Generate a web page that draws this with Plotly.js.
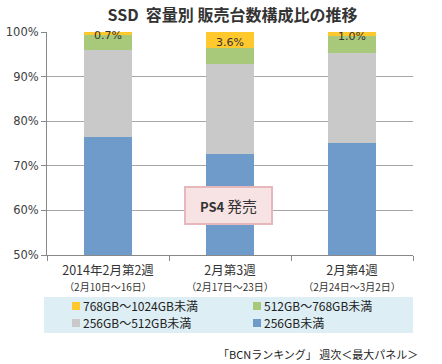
<!DOCTYPE html>
<html>
<head>
<meta charset="utf-8">
<script src="https://cdn.plot.ly/plotly-3.0.1.min.js"></script>
<style>html,body{margin:0;padding:0;background:#fff;}#chart{width:442px;height:364px;}</style>
</head>
<body>
<div id="chart"></div>
<script>
var categories = ["2014年2月第2週", "2月第3週", "2月第4週"];
var subLabels = ["（2月10日～16日）", "（2月17日～23日）", "（2月24日～3月2日）"];
var seriesNames = ["256GB未満", "256GB～512GB未満", "512GB～768GB未満", "768GB～1024GB未満"];
var under256 = [76.4, 72.6, 75.1];
var from256to512 = [19.5, 20.3, 20.2];
var from512to768 = [3.4, 3.5, 3.7];
var from768to1024 = [0.7, 3.6, 1.0];
var valueLabels = ["0.7%", "3.6%", "1.0%"];
var yTicks = [50, 60, 70, 80, 90, 100];

var colors = ["#6F9BCB", "#C9C9C9", "#A8C87A", "#FFC82C"];
var seriesData = [under256, from256to512, from512to768, from768to1024];

var FONT = "DejaVu Sans, Noto Sans CJK JP, sans-serif";
var JFONT = "Noto Sans CJK JP, DejaVu Sans, sans-serif";

// plot area in pixels (for converting overlay positions)
var PL = 47, PR = 413, PT = 32, PB = 255;
function px(x) { return (x - PL) / (PR - PL); }
function py(y) { return (PB - y) / (PB - PT); }

var traces = seriesData.map(function (vals, i) {
  return {
    type: "bar",
    x: categories,
    y: vals,
    name: seriesNames[i],
    marker: { color: colors[i], line: { width: 0 } },
    hoverinfo: "skip"
  };
});

var annotations = categories.map(function (c, i) {
  var top = under256[i] + from256to512[i] + from512to768[i] + from768to1024[i];
  return {
    x: c, y: top - from768to1024[i] / 2, xref: "x", yref: "y",
    text: valueLabels[i], showarrow: false, yshift: -2,
    font: { family: FONT, size: 11, color: "#333" }
  };
});

annotations.push({
  x: categories[1], y: 61, xref: "x", yref: "y", xshift: -2,
  text: "<b>PS4</b> <span style='font-size:15px'>発売</span>",
  showarrow: false, bgcolor: "#F7E3E3", bordercolor: "#E6B8BC", borderwidth: 2, borderpad: 5,
  width: 75, height: 25,
  font: { family: JFONT, size: 13, color: "#333" }
});

annotations.push({
  x: px(420), y: py(354), xref: "paper", yref: "paper", showarrow: false,
  text: "「BCNランキング」 週次＜最大パネル＞", xanchor: "right", yanchor: "middle",
  font: { family: JFONT, size: 11, color: "#222" }
});

var shapes = [{
  type: "rect", xref: "paper", yref: "paper",
  x0: px(44), x1: px(413), y0: py(333), y1: py(297),
  fillcolor: "#DDEEF4", line: { width: 0 }, layer: "below"
}];

// manual legend: order yellow, green / gray, blue
var legendOrder = [3, 2, 1, 0];
var legendPos = [[76, 305], [257, 305], [76, 322], [257, 322]];
legendOrder.forEach(function (si, k) {
  var cx = legendPos[k][0], cy = legendPos[k][1];
  shapes.push({
    type: "rect", xref: "paper", yref: "paper",
    x0: px(cx - 4), x1: px(cx + 4), y0: py(cy + 5), y1: py(cy - 3),
    fillcolor: colors[si], line: { width: 0 }
  });
  annotations.push({
    x: px(cx + 6), y: py(cy), xref: "paper", yref: "paper", showarrow: false,
    text: seriesNames[si], xanchor: "left", yanchor: "middle", borderpad: 0,
    font: { family: JFONT, size: 12, color: "#222" }
  });
});

var layout = {
  width: 442, height: 364,
  margin: { l: PL, r: 442 - PR, t: PT, b: 364 - PB },
  paper_bgcolor: "#fff", plot_bgcolor: "#fff",
  barmode: "stack", bargap: 0.6,
  showlegend: false,
  title: { text: "<b>SSD  容量別 販売台数構成比の推移</b>", x: 0.526, xanchor: "center", y: 0.957, yanchor: "middle",
           font: { family: JFONT, size: 16, color: "#333" } },
  xaxis: {
    type: "category",
    tickmode: "array", tickvals: categories,
    ticktext: categories.map(function (c, i) { return c + "<br><span style='font-size:10px'>" + subLabels[i] + "</span>"; }),
    tickson: "boundaries", ticks: "outside", ticklen: 5, tickcolor: "#888",
    ticklabelstandoff: 4,
    showline: true, linecolor: "#888", linewidth: 1,
    tickfont: { family: JFONT, size: 12.5, color: "#333" },
    fixedrange: true, automargin: false
  },
  yaxis: {
    range: [50, 100], tickvals: yTicks, ticktext: yTicks.map(function (v) { return v + "%"; }),
    ticks: "outside", ticklen: 5, tickcolor: "#888",
    showline: true, linecolor: "#888", linewidth: 1,
    showgrid: true, gridcolor: "#A6A6A6", gridwidth: 1,
    tickfont: { family: FONT, size: 11.5, color: "#404040" },
    zeroline: false, fixedrange: true, automargin: false
  },
  shapes: shapes,
  annotations: annotations
};

Plotly.newPlot("chart", traces, layout, { displayModeBar: false, staticPlot: true });
</script>
</body>
</html>
